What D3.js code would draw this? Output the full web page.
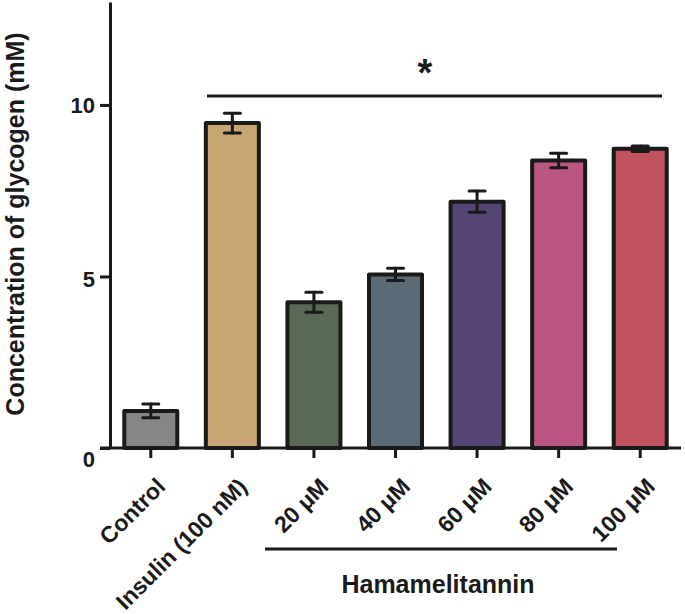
<!DOCTYPE html>
<html lang="en">
<head>
<meta charset="utf-8">
<title>Glycogen</title>
<script src="https://cdn.jsdelivr.net/npm/d3@7"></script>
<style>
  body { margin: 0; background: #fff; }
  text { font-family: "Liberation Sans", Arial, sans-serif; font-weight: bold; fill: #1a1a1a; }
  .axis path, .axis line { stroke: #1a1a1a; stroke-width: 3px; }
  .axis text { font-size: 22px; }
</style>
</head>
<body>
<script>
var categories = ["Control", "Insulin (100 nM)", "20 \u03bcM", "40 \u03bcM", "60 \u03bcM", "80 \u03bcM", "100 \u03bcM"];
var means = [1.08, 9.47, 4.25, 5.06, 7.18, 8.38, 8.72];
var errors = [0.2, 0.29, 0.29, 0.18, 0.31, 0.21, 0.08];
var colors = ["#858787", "#c8a574", "#596955", "#5a6b77", "#554575", "#bb5682", "#c0535e"];
var yTicks = [0, 5, 10];

var w = 685, h = 614;
var padLeft = 110, padRight = 681, padTop = 2, padBottom = 448;

var svg = d3.select("body").append("svg")
  .attr("width", w).attr("height", h);

var x = d3.scaleBand()
  .domain(categories)
  .range([padLeft, padRight])
  .paddingInner(0.35)
  .paddingOuter(0.175);

var y = d3.scaleLinear()
  .domain([0, 13])
  .range([padBottom, padTop]);

// bars
svg.selectAll("rect.bar")
  .data(categories)
  .enter()
  .append("rect")
  .attr("class", "bar")
  .attr("x", function(d) { return x(d); })
  .attr("y", function(d, i) { return y(means[i]); })
  .attr("width", x.bandwidth())
  .attr("height", function(d, i) { return y(0) - y(means[i]); })
  .attr("fill", function(d, i) { return colors[i]; })
  .attr("stroke", "#1a1a1a")
  .attr("stroke-width", 4)
  .attr("stroke-linejoin", "round");

// error bars
var eb = svg.selectAll("g.err")
  .data(categories)
  .enter()
  .append("g")
  .attr("class", "err")
  .attr("stroke", "#1a1a1a")
  .attr("stroke-width", 3)
  .attr("stroke-linecap", "round");

var cx = function(d) { return x(d) + x.bandwidth() / 2; };

eb.append("line")
  .attr("x1", cx).attr("x2", cx)
  .attr("y1", function(d, i) { return y(means[i] + errors[i]); })
  .attr("y2", function(d, i) { return y(means[i] - errors[i]); });

eb.append("line")
  .attr("x1", function(d) { return cx(d) - 8; })
  .attr("x2", function(d) { return cx(d) + 8; })
  .attr("y1", function(d, i) { return y(means[i] + errors[i]); })
  .attr("y2", function(d, i) { return y(means[i] + errors[i]); });

eb.append("line")
  .attr("x1", function(d) { return cx(d) - 8; })
  .attr("x2", function(d) { return cx(d) + 8; })
  .attr("y1", function(d, i) { return y(means[i] - errors[i]); })
  .attr("y2", function(d, i) { return y(means[i] - errors[i]); });

// axes
var yAxis = d3.axisLeft(y).tickValues(yTicks).tickSize(10).tickPadding(5).tickSizeOuter(0);
var gy = svg.append("g")
  .attr("class", "axis")
  .attr("transform", "translate(" + padLeft + ",0)")
  .call(yAxis);
gy.selectAll(".tick text")
  .attr("dy", function(d) { return d === 0 ? "0.85em" : (d === 5 ? "0.45em" : "0.35em"); });

var xAxis = d3.axisBottom(x).tickSize(10).tickSizeOuter(0);
var gx = svg.append("g")
  .attr("class", "axis")
  .attr("transform", "translate(0," + padBottom + ")")
  .call(xAxis);
gx.select(".domain").attr("d", "M" + (padLeft - 10) + ",0H" + padRight);
gx.selectAll(".tick text")
  .style("font-size", "23px")
  .attr("text-anchor", "end")
  .attr("x", 0).attr("y", 0)
  .attr("dy", "0")
  .attr("transform", "translate(16,40) rotate(-45)");

// y label
svg.append("text")
  .attr("transform", "translate(24,224) rotate(-90)")
  .attr("text-anchor", "middle")
  .style("font-size", "25px")
  .text("Concentration of glycogen (mM)");

// significance
svg.append("line")
  .attr("x1", 207).attr("x2", 662)
  .attr("y1", 96).attr("y2", 96)
  .attr("stroke", "#1a1a1a").attr("stroke-width", 3);
svg.append("text")
  .attr("x", 425).attr("y", 86)
  .attr("text-anchor", "middle")
  .style("font-size", "38px")
  .text("*");

// group bracket
svg.append("line")
  .attr("x1", 265).attr("x2", 617)
  .attr("y1", 549).attr("y2", 549)
  .attr("stroke", "#1a1a1a").attr("stroke-width", 3);
svg.append("text")
  .attr("x", 438).attr("y", 593)
  .attr("text-anchor", "middle")
  .style("font-size", "25px")
  .text("Hamamelitannin");
</script>
</body>
</html>
